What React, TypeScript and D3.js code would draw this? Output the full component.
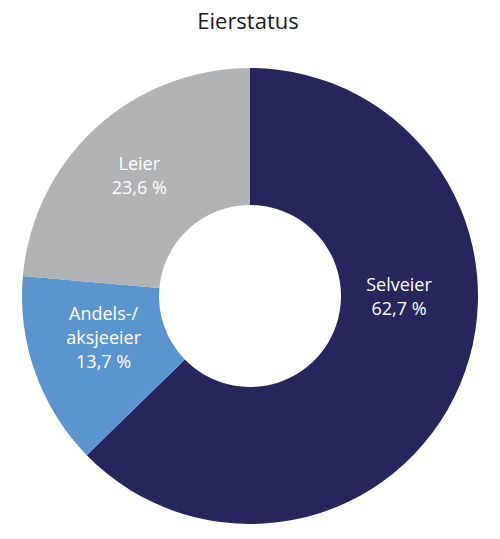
import * as d3 from "d3"

const categories = ["Selveier", "Andels-/\naksjeeier", "Leier"]
const shares = [62.7, 13.7, 23.6]
const colors = ["#26255c", "#5b95d0", "#b1b2b4"]
const title = "Eierstatus"

export default function App() {
  const width = 500
  const height = 539
  const cx = 250
  const cy = 296
  const outer = 228
  const inner = 91

  const data = categories.map((name, i) => ({ name, value: shares[i], color: colors[i] }))
  const pie = d3.pie<any>().value((d) => d.value).sort(null)
  const arc = d3.arc<any>().innerRadius(inner).outerRadius(outer)
  const arcs = pie(data)

  // label placement: middle of ring; a slice wider than half the circle gets its label at the right
  const labelPos = (a: any, i: number) => {
    const span = a.endAngle - a.startAngle
    const angle = span > Math.PI ? Math.PI / 2 : (a.startAngle + a.endAngle) / 2 + (i === 1 ? 0.07 : 0)
    const r = span > Math.PI ? 149 : i === 1 ? 152 : 164
    return [r * Math.sin(angle), -r * Math.cos(angle)]
  }

  const fmt = (v: number) => v.toFixed(1).replace(".", ",") + " %"

  return (
    <svg width={width} height={height} style={{ position: "absolute", left: 0, top: 0 }}
      fontFamily="'Open Sans', sans-serif">
      <rect width={width} height={height} fill="#ffffff" />
      <text x={width / 2 - 2} y={29} textAnchor="middle" fontSize={22} fill="#1a1a1a">{title}</text>
      <g transform={`translate(${cx},${cy})`}>
        {arcs.map((a, i) => (
          <path key={i} d={arc(a) as string} fill={a.data.color} />
        ))}
        {arcs.map((a, i) => {
          const [x, y] = labelPos(a, i)
          const lines = [...a.data.name.split("\n"), fmt(a.data.value)]
          const lh = 24
          const y0 = y - ((lines.length - 1) * lh) / 2
          return (
            <text key={"l" + i} x={x} y={y0} textAnchor="middle" dominantBaseline="central"
              fontSize={18} fill="#ffffff">
              {lines.map((t, j) => (
                <tspan key={j} x={x} y={y0 + j * lh}>{t}</tspan>
              ))}
            </text>
          )
        })}
      </g>
    </svg>
  )
}
